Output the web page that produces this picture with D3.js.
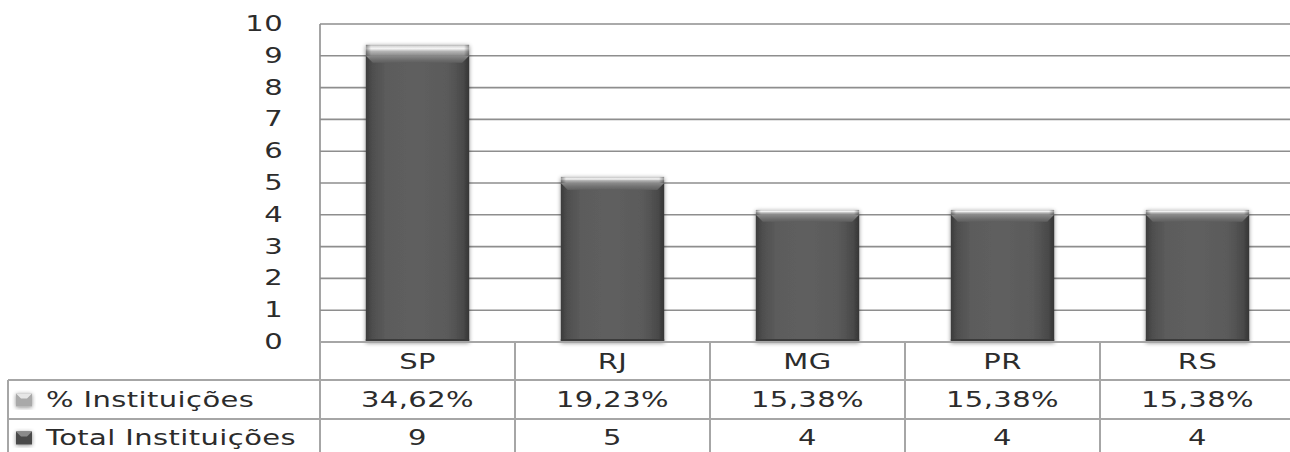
<!DOCTYPE html>
<html>
<head>
<meta charset="utf-8">
<script src="https://cdn.jsdelivr.net/npm/d3@7/dist/d3.min.js"></script>
<style>
  html, body { margin: 0; padding: 0; background: #fff; }
  svg { display: block; }
  text { font-family: "DejaVu Sans", Verdana, sans-serif; fill: #2c2c2c; }
</style>
</head>
<body>
<svg id="chart" width="1290" height="452"></svg>
<script>
// Instituições por estado
const categories = ["SP", "RJ", "MG", "PR", "RS"];
const totalInstituicoes = [9, 5, 4, 4, 4];
const pctInstituicoes = [34.62, 19.23, 15.38, 15.38, 15.38];
const yTicks = [0, 1, 2, 3, 4, 5, 6, 7, 8, 9, 10];
const seriesNames = ["% Instituições", "Total Instituições"];

const svg = d3.select("#chart");
const W = 1290, H = 452;
const plot = { left: 320, right: 1295, top: 24, bottom: 342 };
const rowLines = [380, 419, 458];
const tableLeft = 8;
const FS = 21, SX = 1.38;

const ptBR = d3.formatLocale({ decimal: ",", thousands: ".", grouping: [3], currency: ["R$", ""] });
const fmtPct = ptBR.format(".2f");

const x = d3.scaleBand().domain(categories).range([plot.left, plot.right]).padding(0);
const y = d3.scaleLinear().domain([0, 10]).range([plot.bottom, plot.top]);
const barW = x.bandwidth() * 0.53;

// Gradients and shadow
const defs = svg.append("defs");
const gSide = defs.append("linearGradient").attr("id", "darkSide").attr("x1", 0).attr("x2", 1).attr("y1", 0).attr("y2", 0);
[[0, "#3a3a3a"], [0.06, "#4e4e4e"], [0.2, "#5c5c5c"], [0.5, "#5f5f5f"], [0.8, "#5a5a5a"], [0.94, "#4a4a4a"], [1, "#353535"]]
  .forEach(([o, c]) => gSide.append("stop").attr("offset", o).attr("stop-color", c));
const gBevel = defs.append("linearGradient").attr("id", "darkBevel").attr("x1", 0).attr("x2", 0).attr("y1", 0).attr("y2", 1);
[[0, "#8a8a8a"], [0.5, "#727272"], [1, "#5e5e5e"]]
  .forEach(([o, c]) => gBevel.append("stop").attr("offset", o).attr("stop-color", c));
const gCap = defs.append("linearGradient").attr("id", "cap").attr("x1", 0).attr("x2", 0).attr("y1", 0).attr("y2", 1);
[[0, "#a8a8a8"], [0.12, "#d8d8d8"], [0.35, "#f4f4f4"], [0.6, "#b4b4b4"], [1, "#8a8a8a"]]
  .forEach(([o, c]) => gCap.append("stop").attr("offset", o).attr("stop-color", c));
const gCapSide = defs.append("linearGradient").attr("id", "capSide").attr("x1", 0).attr("x2", 1).attr("y1", 0).attr("y2", 0);
[[0, "rgba(0,0,0,0.35)"], [0.05, "rgba(0,0,0,0)"], [0.95, "rgba(0,0,0,0)"], [1, "rgba(0,0,0,0.35)"]]
  .forEach(([o, c]) => gCapSide.append("stop").attr("offset", o).attr("stop-color", c));
const shadow = defs.append("filter").attr("id", "shadow").attr("x", "-20%").attr("y", "-20%").attr("width", "140%").attr("height", "140%");
shadow.append("feDropShadow").attr("dx", 0).attr("dy", 1).attr("stdDeviation", 2.2)
  .attr("flood-color", "#000").attr("flood-opacity", 0.45);

// Horizontal gridlines
svg.append("g").selectAll("line").data(yTicks).join("line")
  .attr("x1", plot.left).attr("x2", W)
  .attr("y1", d => y(d)).attr("y2", d => y(d))
  .attr("stroke", "#8e8e8e").attr("stroke-width", 1.6);

// Plot left border
svg.append("line").attr("x1", plot.left).attr("x2", plot.left)
  .attr("y1", plot.top).attr("y2", plot.bottom)
  .attr("stroke", "#8e8e8e").attr("stroke-width", 1.6);

// Horizontally widened text
function label(g, tx, ty, str, anchor) {
  return g.append("text")
    .attr("transform", `translate(${tx},${ty}) scale(${SX},1)`)
    .attr("text-anchor", anchor)
    .attr("dominant-baseline", "central")
    .attr("font-size", FS)
    .attr("letter-spacing", 0.3)
    .text(str);
}

// Y axis labels
const yAxisG = svg.append("g");
yTicks.forEach(t => label(yAxisG, 283, y(t), String(t), "end"));

// Stacked bars: Total Instituições with % Instituições on top
const bars = svg.append("g").selectAll("g").data(categories).join("g")
  .attr("filter", "url(#shadow)");
bars.each(function (c, i) {
  const g = d3.select(this);
  const x0 = x(c) + (x.bandwidth() - barW) / 2;
  const yTot = y(totalInstituicoes[i]);
  const yTop = y(totalInstituicoes[i] + pctInstituicoes[i] / 100);
  const yBase = y(0);
  g.append("rect").attr("x", x0).attr("y", yTot).attr("width", barW).attr("height", yBase - yTot)
    .attr("fill", "url(#darkSide)");
  const b = 7;
  g.append("path")
    .attr("d", `M${x0},${yTot}L${x0 + barW},${yTot}L${x0 + barW - b},${yTot + b}L${x0 + b},${yTot + b}Z`)
    .attr("fill", "url(#darkBevel)");
  g.append("rect").attr("x", x0).attr("y", yBase - 3).attr("width", barW).attr("height", 3)
    .attr("fill", "#3a3a3a");
  g.append("rect").attr("x", x0).attr("y", yTop).attr("width", barW).attr("height", yTot - yTop)
    .attr("fill", "url(#cap)");
  g.append("rect").attr("x", x0).attr("y", yTop).attr("width", barW).attr("height", yTot - yTop)
    .attr("fill", "url(#capSide)");
});

// Data table
const table = svg.append("g");
const lineStyle = sel => sel.attr("stroke", "#a6a6a6").attr("stroke-width", 2);
table.append("line").attr("x1", plot.left).attr("x2", W).attr("y1", plot.bottom).attr("y2", plot.bottom).call(lineStyle);
rowLines.forEach(ly => table.append("line").attr("x1", tableLeft).attr("x2", W).attr("y1", ly).attr("y2", ly).call(lineStyle));
table.append("line").attr("x1", tableLeft).attr("x2", tableLeft).attr("y1", rowLines[0]).attr("y2", H).call(lineStyle);
table.append("line").attr("x1", plot.left).attr("x2", plot.left).attr("y1", plot.bottom).attr("y2", H).call(lineStyle);
categories.slice(1).forEach(c => table.append("line")
  .attr("x1", x(c)).attr("x2", x(c)).attr("y1", plot.bottom).attr("y2", H).call(lineStyle));
table.append("line").attr("x1", plot.right).attr("x2", plot.right).attr("y1", plot.bottom).attr("y2", H).call(lineStyle);

// category row
categories.forEach(c => label(table, x(c) + x.bandwidth() / 2, (plot.bottom + rowLines[0]) / 2 + 0.5, c, "middle"));
// series rows
const rowMid = [(rowLines[0] + rowLines[1]) / 2, (rowLines[1] + rowLines[2]) / 2 - 1];
categories.forEach((c, i) => {
  label(table, x(c) + x.bandwidth() / 2, rowMid[0], fmtPct(pctInstituicoes[i]) + "%", "middle");
  label(table, x(c) + x.bandwidth() / 2, rowMid[1], String(totalInstituicoes[i]), "middle");
});

// legend keys
seriesNames.forEach((name, r) => {
  const k = table.append("g").attr("filter", "url(#shadow)");
  k.append("rect").attr("x", 16).attr("y", rowMid[r] - 6).attr("width", 16).attr("height", 13)
    .attr("fill", r === 0 ? "#a9a9a9" : "#4a4a4a");
  k.append("path")
    .attr("d", `M16,${rowMid[r] - 6}L32,${rowMid[r] - 6}L27,${rowMid[r] - 1}L21,${rowMid[r] - 1}Z`)
    .attr("fill", r === 0 ? "#e6e6e6" : "#8a8a8a");
  label(table, 46, rowMid[r], name, "start");
});
</script>
</body>
</html>
